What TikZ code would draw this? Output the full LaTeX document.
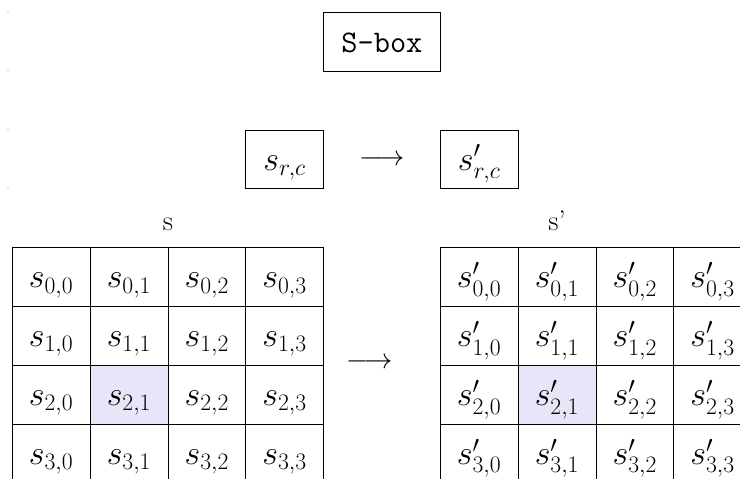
\documentclass[tikz,border=0pt]{standalone}
\usetikzlibrary{positioning}
\definecolor{hilite}{RGB}{230, 230, 248}
\definecolor{tickcol}{RGB}{160, 160, 160}
\newcommand\cellfont{\fontsize{23}{28}\selectfont}
\tikzset{
  cell/.style  = {draw, minimum width=2cm, minimum height=1.512cm,
                  inner sep=0pt, text height=18pt, text depth=2pt,
                  font=\cellfont},
  sbox/.style  = {cell, minimum width=3cm, font=\cellfont\ttfamily},
  pick/.style  = {fill=hilite},
  hl-2-1/.style = {pick},
  lbl/.style   = {font=\huge, anchor=base, inner sep=0pt},
  maparrow/.style = {font=\huge, inner sep=0pt},
}
\begin{document}
\begin{tikzpicture}

  \useasboundingbox (0,0) rectangle (19.02,-12.31);
  \clip (0,0) rectangle (19.02,-12.31);

  % faint ticks on the left edge
  \foreach \y in {0.326, 1.817, 3.324, 4.841}
    \fill[tickcol] (0.206,-\y) circle (0.45pt);

  %% ---------------- the box and one byte ----------------
  \node[sbox] (sb) at (9.816,-1.072) {S-box};

  \node[cell] (in) at (7.316,-4.096) {$s_{r,c}$};
  \node[cell] (out) at (12.316,-4.096) {$s'_{r,c}$};
  \node[maparrow] (step1) at (9.816,-4.13) {$\longrightarrow$};

  %% ---------------- the two states ----------------
  \node[lbl] (lab-s) at (4.316,-5.931) {s};
  \node[lbl] (lab-t) at (14.316,-5.931) {s'};

  \foreach \r in {0,...,3}
    \foreach \c in {0,...,3} {
      \node[cell, hl-\r-\c/.try] (s-\r-\c)
           at (1.316+2*\c, -7.120-1.512*\r) {$s_{\r,\c}$};
      \node[cell, hl-\r-\c/.try] (t-\r-\c)
           at (12.316+2*\c, -7.120-1.512*\r) {$s'_{\r,\c}$};
    }

  \node[maparrow] (step2) at (9.5,-9.34) {$\longrightarrow$};

\end{tikzpicture}
\end{document}
